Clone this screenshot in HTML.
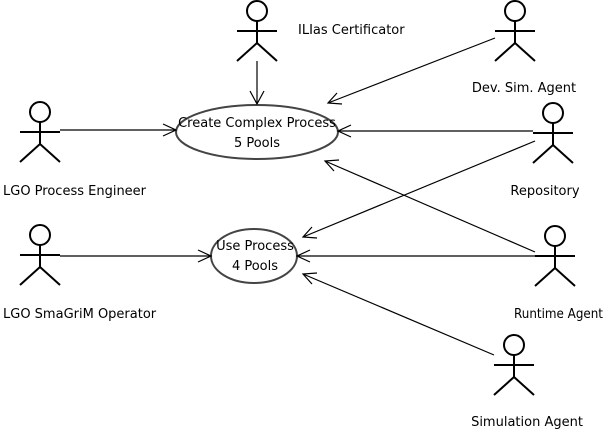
<!DOCTYPE html>
<html><head><meta charset="utf-8"><style>
html,body{margin:0;padding:0;background:#fff;}
svg{display:block;}
text{font-family:"DejaVu Sans","Liberation Sans",sans-serif;font-size:13px;fill:#000;}
</style></head><body>
<svg width="604" height="430" viewBox="0 0 604 430">
<defs>
<g id="actor" fill="none" stroke="#000" stroke-width="2">
<circle cx="0" cy="10" r="10"/>
<line x1="0" y1="20" x2="0" y2="42"/>
<line x1="-20" y1="30" x2="20" y2="30"/>
<line x1="0" y1="42" x2="-20" y2="60"/>
<line x1="0" y1="42" x2="20" y2="60"/>
</g>
</defs>
<use href="#actor" x="257" y="1"/>
<use href="#actor" x="515" y="1"/>
<use href="#actor" x="40" y="102"/>
<use href="#actor" x="553" y="103"/>
<use href="#actor" x="40" y="225"/>
<use href="#actor" x="555" y="226"/>
<use href="#actor" x="514" y="335"/>

<ellipse cx="257" cy="132" rx="81" ry="27" fill="#fff" stroke="#444" stroke-width="2"/>
<ellipse cx="254" cy="256" rx="43" ry="27" fill="#fff" stroke="#444" stroke-width="2"/>

<g stroke="#000" stroke-width="1.2" fill="none">
<line x1="257" y1="61" x2="257" y2="104"/>
<polyline points="250,91 257,104 264,91"/>
<line x1="495" y1="38" x2="328" y2="103"/>
<polyline points="337,93 328,103 342,104"/>
<line x1="60" y1="130" x2="176" y2="130"/>
<polyline points="163,124 176,130 163,136"/>
<line x1="533" y1="131" x2="338" y2="131"/>
<polyline points="351,125 338,131 351,137"/>
<line x1="535" y1="141" x2="303" y2="237"/>
<polyline points="312,227 303,237 317,238"/>
<line x1="535" y1="252" x2="325" y2="161"/>
<polyline points="339,160 325,161 334,171"/>
<line x1="60" y1="256" x2="211" y2="256"/>
<polyline points="198,250 211,256 198,262"/>
<line x1="535" y1="256" x2="297" y2="256"/>
<polyline points="310,250 297,256 310,262"/>
<line x1="494" y1="355" x2="303" y2="274"/>
<polyline points="317,273 303,274 312,284"/>
</g>

<text x="257" y="127" text-anchor="middle">Create Complex Process</text>
<text x="257" y="147" text-anchor="middle">5 Pools</text>
<text x="255" y="250" text-anchor="middle">Use Process</text>
<text x="255" y="270" text-anchor="middle">4 Pools</text>

<text x="298" y="34">ILIas Certificator</text>
<text x="524" y="92" text-anchor="middle">Dev. Sim. Agent</text>
<text x="3" y="195">LGO Process Engineer</text>
<text x="545" y="195" text-anchor="middle">Repository</text>
<text x="3" y="318">LGO SmaGriM Operator</text>
<text x="514" y="318" textLength="89" lengthAdjust="spacingAndGlyphs">Runtime Agent</text>
<text x="527" y="426" text-anchor="middle">Simulation Agent</text>
</svg>
</body></html>
